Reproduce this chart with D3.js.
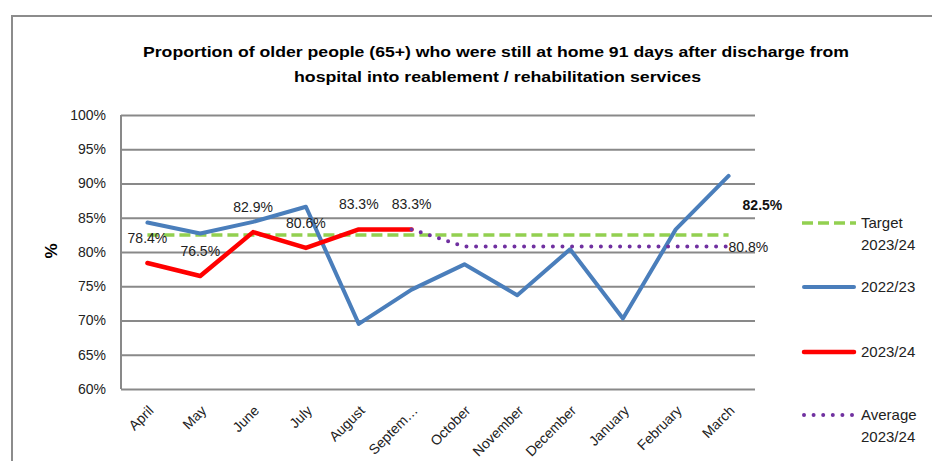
<!DOCTYPE html>
<html><head><meta charset="utf-8">
<script src="https://cdn.jsdelivr.net/npm/d3@7"></script>
<style>body{margin:0;background:#fff} svg{display:block}</style>
</head><body><svg id="c" width="932" height="461"></svg>
<script>
const months = ["April","May","June","July","August","September","October","November","December","January","February","March"];
const monthLabels = ["April","May","June","July","August","Septem\u2026","October","November","December","January","February","March"];
const series2022 = [84.3,82.7,84.4,86.6,69.5,74.5,78.2,73.7,80.4,70.3,83.3,91.1];
const series2023 = [78.4,76.5,82.9,80.6,83.3,83.3,null,null,null,null,null,null];
const target2023 = [82.5,82.5,82.5,82.5,82.5,82.5,82.5,82.5,82.5,82.5,82.5,82.5];
const average2023 = [null,null,null,null,null,83.3,80.8,80.8,80.8,80.8,80.8,80.8];
const yTicks = [60,65,70,75,80,85,90,95,100];
const titleLines = ["Proportion of older people (65+) who were still at home 91 days after discharge from",
                    "hospital into reablement / rehabilitation services"];
const legendItems = [
  {label:["Target","2023/24"], key:"target"},
  {label:["2022/23"], key:"s22"},
  {label:["2023/24"], key:"s23"},
  {label:["Average","2023/24"], key:"avg"}
];

const styles = {
  target:{stroke:"#92D050", width:3.5, dash:"11,5", cap:"butt"},
  s22:{stroke:"#4A7EBB", width:4, dash:null, cap:"round"},
  s23:{stroke:"#FF0000", width:4.5, dash:null, cap:"round"},
  avg:{stroke:"#7030A0", width:4, dash:"0,9.6", cap:"round"}
};

const svg = d3.select("#c");
const L = 121, R = 755, T = 115, B = 389;
const x = d3.scalePoint().domain(months).range([L,R]).padding(0.5);
const y = d3.scaleLinear().domain([60,100]).range([B,T]);
const font = "'Liberation Sans', Arial, sans-serif";

// outer frame
svg.append("rect").attr("x",12).attr("y",16).attr("width",1000).attr("height",1000)
  .attr("fill","none").attr("stroke","#8c8c8c").attr("stroke-width",2);

// title
const tW = [706, 407], tC = [496, 497.5], tY = [57, 82];
titleLines.forEach((t,i)=>{
  svg.append("text").attr("x",tC[i]).attr("y",tY[i]).attr("text-anchor","middle")
    .attr("font-family",font).attr("font-weight","bold").attr("font-size",15)
    .attr("textLength",tW[i]).attr("lengthAdjust","spacingAndGlyphs")
    .attr("fill","#000").text(t);
});

// y axis / gridlines
const ya = svg.append("g").attr("transform",`translate(${L},0)`)
  .call(d3.axisLeft(y).tickValues(yTicks).tickSize(-(R-L)).tickPadding(15).tickFormat(d=>d+"%"));
ya.select(".domain").remove();
ya.selectAll("line").attr("stroke","#898989").attr("stroke-width",2);
ya.selectAll("text").attr("font-family",font).attr("font-size",14).attr("fill","#222");
svg.append("line").attr("x1",L).attr("x2",L).attr("y1",T).attr("y2",B)
  .attr("stroke","#898989").attr("stroke-width",2);

// y title
svg.append("text").attr("transform","translate(57,251) rotate(-90)").attr("text-anchor","middle")
  .attr("font-family",font).attr("font-weight","bold").attr("font-size",17).text("%");

// x axis
const xa = svg.append("g").attr("transform",`translate(0,${B})`)
  .call(d3.axisBottom(x).tickSize(0).tickFormat((d,i)=>monthLabels[i]));
xa.select(".domain").remove();
xa.selectAll("text").attr("x",0).attr("y",0).attr("dy","0.35em")
  .attr("transform","translate(3,19) rotate(-45)").attr("text-anchor","end")
  .attr("font-family",font).attr("font-size",14).attr("fill","#222");

const line = d3.line().defined(d=>d!=null).x((d,i)=>x(months[i])).y(d=>y(d));
function draw(data,key){
  const s = styles[key];
  svg.append("path").datum(data).attr("d",line).attr("fill","none")
    .attr("stroke",s.stroke).attr("stroke-width",s.width)
    .attr("stroke-dasharray",s.dash).attr("stroke-linecap",s.cap).attr("stroke-linejoin","round");
}
draw(target2023,"target");
draw(series2022,"s22");
draw(series2023,"s23");
draw(average2023,"avg");

// red data labels
svg.append("g").selectAll("text").data(series2023.map((v,i)=>({v,i})).filter(d=>d.v!=null))
  .join("text").attr("x",d=>x(months[d.i])).attr("y",d=>y(d.v)-20).attr("text-anchor","middle")
  .attr("font-family",font).attr("font-size",14).attr("fill","#222").text(d=>d.v.toFixed(1)+"%");

// end labels
svg.append("text").attr("x",x("March")+14).attr("y",y(target2023[11])-25)
  .attr("font-family",font).attr("font-weight","bold").attr("font-size",14).attr("fill","#111")
  .text(target2023[11].toFixed(1)+"%");
svg.append("text").attr("x",x("March")).attr("y",y(average2023[11])+5)
  .attr("font-family",font).attr("font-size",14).attr("fill","#222")
  .text(average2023[11].toFixed(1)+"%");

// legend
const legY = [223, 287, 352, 415];
legendItems.forEach((it,i)=>{
  const s = styles[it.key];
  svg.append("line").attr("x1",it.key==="target"?802:804).attr("x2",it.key==="s22"||it.key==="s23"?854:856)
    .attr("y1",legY[i]).attr("y2",legY[i])
    .attr("stroke",s.stroke).attr("stroke-width",s.width).attr("stroke-dasharray",s.dash).attr("stroke-linecap",s.cap);
  it.label.forEach((t,j)=>{
    svg.append("text").attr("x",861).attr("y",legY[i]+5+j*22)
      .attr("font-family",font).attr("font-size",15).attr("fill","#222").text(t);
  });
});
</script></body></html>
